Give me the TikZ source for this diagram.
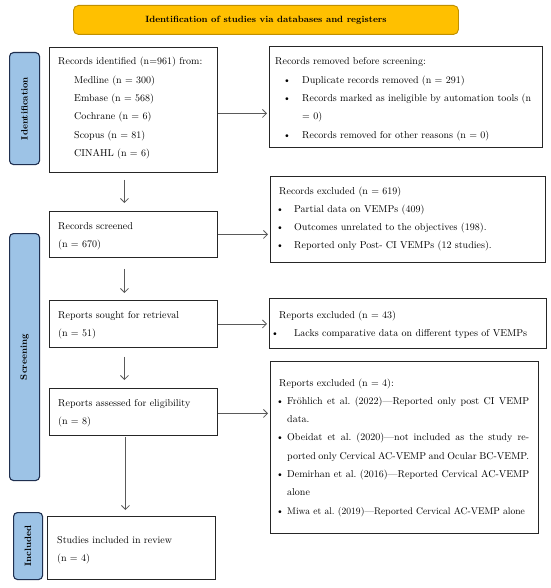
\documentclass[tikz,border=0pt]{standalone}
\usetikzlibrary{arrows.meta}
\definecolor{bannerfill}{HTML}{FFC000}
\definecolor{bannerdraw}{HTML}{C09000}
\definecolor{sidefill}{HTML}{9DC3E6}
\definecolor{sidedraw}{HTML}{1F2F4F}
\definecolor{arrowgray}{HTML}{5A5A5A}
\newcommand\bul[2]{\hspace*{#1}\makebox[#2][l]{\textbullet}}
\newcommand\textlines[1]{\begin{tabular}[t]{@{}l@{}}#1\end{tabular}}
\begin{document}
\begin{tikzpicture}[x=1pt,y=-1pt,
  box/.style={draw=black!85, line width=0.9pt, anchor=north west, inner sep=0pt},
  side/.style={draw=sidedraw, fill=sidefill, line width=1.1pt, rounded corners=4pt, anchor=north west, inner sep=0pt},
  sidelabel/.style={rotate=90, font=\fontsize{9.2}{10}\selectfont\bfseries, inner sep=0pt},
  txt/.style={anchor=base west, inner sep=0pt, font=\fontsize{10}{18.3}\selectfont},
  arr/.style={draw=arrowgray, line width=0.8pt, -{Straight Barb[length=4pt,width=8pt]}},
]
\useasboundingbox (0,0) rectangle (550,588);
\fill[white] (0,0) rectangle (550,588);

% banner
\node[draw=bannerdraw, fill=bannerfill, line width=0.9pt, rounded corners=5pt,
  minimum width=385pt, minimum height=29pt, anchor=north west, inner sep=0pt,
  font=\fontsize{9.1}{11}\selectfont\bfseries] (banner) at (73,5)
  {Identification of studies via databases and registers};

% side bars
\node[side, minimum width=30pt, minimum height=112pt] (sideid) at (9,52) {};
\node[sidelabel] (sideidtxt) at (sideid.center) {Identification};
\node[side, minimum width=30pt, minimum height=247pt] (sidescr) at (9,233) {};
\node[sidelabel] (sidescrtxt) at (sidescr.center) {Screening};
\node[side, minimum width=29pt, minimum height=67pt] (sideinc) at (13,512) {};
\node[sidelabel] (sideinctxt) at (sideinc.center) {Included};

% left boxes
\node[box, minimum width=168pt, minimum height=125pt] (idbox) at (49,47) {};
\node[txt] (idtxt) at (58,65) {\textlines{Records identified (n=961) from:\\
  \hspace*{16pt}Medline (n = 300)\\
  \hspace*{16pt}Embase (n = 568)\\
  \hspace*{16pt}Cochrane (n = 6)\\
  \hspace*{16pt}Scopus (n = 81)\\
  \hspace*{16pt}CINAHL (n = 6)}};

\node[box, minimum width=168pt, minimum height=46pt] (screened) at (49,211) {};
\node[txt] (screenedtxt) at (58,229) {\textlines{Records screened\\(n = 670)}};

\node[box, minimum width=168pt, minimum height=47pt] (sought) at (49,300) {};
\node[txt] (soughttxt) at (58,318) {\textlines{Reports sought for retrieval\\(n = 51)}};

\node[box, minimum width=168pt, minimum height=47pt] (assessed) at (49,388) {};
\node[txt] (assessedtxt) at (58,406) {\textlines{Reports assessed for eligibility\\(n = 8)}};

\node[box, minimum width=168pt, minimum height=63pt] (included) at (47,516) {};
\node[txt] (includedtxt) at (57,543) {\textlines{Studies included in review\\(n = 4)}};

% right boxes
\node[box, minimum width=273pt, minimum height=101pt] (removed) at (269,46) {};
\node[txt] (removedtxt) at (275,65) {\textlines{Records removed before screening:\\
  \bul{8pt}{19pt}Duplicate records removed (n = 291)\\
  \bul{8pt}{19pt}Records marked as ineligible by automation tools (n\\
  \hspace*{27pt}= 0)\\
  \bul{8pt}{19pt}Records removed for other reasons (n = 0)}};

\node[box, minimum width=275pt, minimum height=86pt] (excl1) at (270,176) {};
\node[txt] (excl1txt) at (276,194) {\textlines{\hspace*{3pt}Records excluded (n = 619)\\
  \bul{0pt}{18pt}Partial data on VEMPs (409)\\
  \bul{0pt}{18pt}Outcomes unrelated to the objectives (198).\\
  \bul{0pt}{18pt}Reported only Post- CI VEMPs (12 studies).}};

\node[box, minimum width=277pt, minimum height=50pt] (excl2) at (269,298) {};
\node[txt] (excl2txt) at (271,318) {\textlines{\hspace*{8pt}Reports excluded (n = 43)\\
  \bul{0pt}{23pt}Lacks comparative data on different types of VEMPs}};

\node[box, minimum width=268pt, minimum height=172pt] (excl3) at (270,361) {};
\node[txt] (excl3txt) at (276,386) {\textlines{\hspace*{3pt}Reports excluded (n = 4):\\
  \bul{0pt}{11pt}\makebox[242pt][s]{Fr\"ohlich et al.\ (2022)---Reported only post CI VEMP}\\
  \hspace*{11pt}data.\\
  \bul{0pt}{11pt}\makebox[242pt][s]{Obeidat et al.\ (2020)---not included as the study re-}\\
  \hspace*{11pt}\makebox[242pt][s]{ported only Cervical AC-VEMP and Ocular BC-VEMP.}\\
  \bul{0pt}{11pt}\makebox[242pt][s]{Demirhan et al.\ (2016)---Reported Cervical AC-VEMP}\\
  \hspace*{11pt}alone\\
  \bul{0pt}{11pt}{\fontsize{9.6}{18.3}\selectfont Miwa et al.\ (2019)---Reported Cervical AC-VEMP alone}}};

% vertical arrows
\draw[arr, shorten <=7pt, shorten >=8pt] ([xshift=-9pt]idbox.south) -- ([xshift=-9pt]idbox.south |- screened.north);
\draw[arr, shorten <=11pt, shorten >=7pt] ([xshift=-9pt]screened.south) -- ([xshift=-9pt]screened.south |- sought.north);
\draw[arr, shorten <=9pt, shorten >=8pt] ([xshift=-9pt]sought.south) -- ([xshift=-9pt]sought.south |- assessed.north);
\draw[arr, shorten <=1pt, shorten >=6pt] ([xshift=-8pt]assessed.south) -- ([xshift=-8pt]assessed.south |- included.north);

% horizontal arrows
\draw[arr, shorten >=2pt] ([yshift=-3.5pt]idbox.east) -- ([yshift=-3.5pt]idbox.east -| removed.west);
\draw[arr, shorten >=2pt] (screened.east) -- (screened.east -| excl1.west);
\draw[arr, shorten >=2pt] (sought.east) -- (sought.east -| excl2.west);
\draw[arr, shorten >=2pt] ([yshift=-1.5pt]assessed.east) -- ([yshift=-1.5pt]assessed.east -| excl3.west);
\end{tikzpicture}
\end{document}
